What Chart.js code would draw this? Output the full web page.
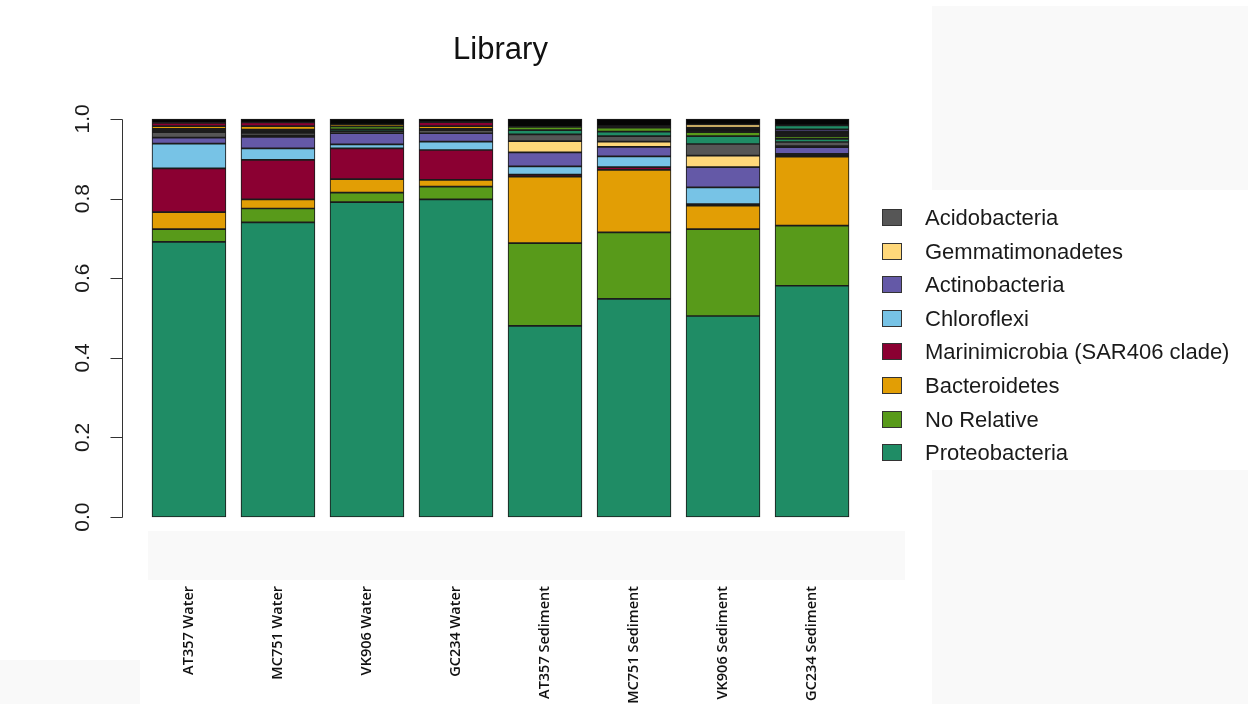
<!DOCTYPE html>
<html>
<head>
<meta charset="utf-8">
<title>Library</title>
<script src="https://cdn.jsdelivr.net/npm/chart.js@4.4.1/dist/chart.umd.min.js"></script>
<style>
  html, body { margin: 0; padding: 0; background: #ffffff; }
  canvas { display: block; }
</style>
</head>
<body>
<canvas id="chart" width="1248" height="704"></canvas>
<script>
// Relative abundance of bacterial phyla per library (each column sums to 1)
const samples = ['AT357 Water', 'MC751 Water', 'VK906 Water', 'GC234 Water',
                 'AT357 Sediment', 'MC751 Sediment', 'VK906 Sediment', 'GC234 Sediment'];

const proteobacteria   = [0.691, 0.740, 0.791, 0.798, 0.480, 0.548, 0.505, 0.581];
const noRelative       = [0.032, 0.035, 0.024, 0.032, 0.208, 0.167, 0.218, 0.151];
const bacteroidetes    = [0.043, 0.023, 0.034, 0.017, 0.167, 0.157, 0.059, 0.173];
const marinimicrobia   = [0.110, 0.099, 0.077, 0.075, 0.005, 0.007, 0.004, 0.004];
const chloroflexi      = [0.062, 0.029, 0.010, 0.021, 0.021, 0.027, 0.042, 0.003];
const actinobacteria   = [0.015, 0.029, 0.028, 0.021, 0.035, 0.024, 0.051, 0.017];
const gemmatimonadetes = [0.000, 0.003, 0.000, 0.000, 0.028, 0.013, 0.029, 0.003];
const acidobacteria    = [0.014, 0.007, 0.005, 0.008, 0.017, 0.014, 0.029, 0.010];

// Low-abundance phyla stacked above the named groups (not listed in the legend)
const minor1    = [0.004, 0.004, 0.005, 0.003, 0.011, 0.011, 0.020, 0.008];
const minor2    = [0.004, 0.004, 0.007, 0.000, 0.008, 0.010, 0.010, 0.006];
const minor3    = [0.007, 0.009, 0.005, 0.007, 0.000, 0.004, 0.000, 0.002];
const minor4    = [0.008, 0.009, 0.000, 0.010, 0.000, 0.000, 0.000, 0.004];
const minor5    = [0.000, 0.000, 0.000, 0.000, 0.000, 0.000, 0.011, 0.006];
const minor6    = [0.000, 0.000, 0.000, 0.000, 0.000, 0.000, 0.000, 0.006];
const minor7    = [0.000, 0.000, 0.000, 0.000, 0.000, 0.000, 0.008, 0.000];
const minor8    = [0.000, 0.000, 0.000, 0.000, 0.000, 0.000, 0.000, 0.010];
const remainder = [0.010, 0.009, 0.014, 0.008, 0.020, 0.018, 0.014, 0.016];

const yTicks = [0, 0.2, 0.4, 0.6, 0.8, 1.0];

// Palette
const C = {
  teal: '#1f8c65', green: '#589a1a', orange: '#e29e05', crimson: '#8b0032',
  sky: '#77c3e6', purple: '#6459a7', sand: '#ffd87a', grey: '#565656',
  ink: '#161616', black: '#050505'
};
const EDGE = '#1c1c1c';

// barplot-style layout: bar width 1, gap 0.2, 4% padding on the axis range
const SPACE = 0.2, WIDTH = 1;
const centre = i => SPACE + WIDTH / 2 + i * (WIDTH + SPACE);
const xLo = SPACE, xHi = samples.length * (WIDTH + SPACE);
const xPad = (xHi - xLo) * 0.04;

function series(label, values, color, legend) {
  return {
    label,
    data: values.map((v, i) => ({ x: centre(i), y: v })),
    backgroundColor: color,
    borderColor: EDGE,
    borderWidth: 0.85,
    borderSkipped: false,
    inLegend: legend
  };
}

const datasets = [
  series('Proteobacteria', proteobacteria, C.teal, true),
  series('No Relative', noRelative, C.green, true),
  series('Bacteroidetes', bacteroidetes, C.orange, true),
  series('Marinimicrobia (SAR406 clade)', marinimicrobia, C.crimson, true),
  series('Chloroflexi', chloroflexi, C.sky, true),
  series('Actinobacteria', actinobacteria, C.purple, true),
  series('Gemmatimonadetes', gemmatimonadetes, C.sand, true),
  series('Acidobacteria', acidobacteria, C.grey, true),
  series('minor 1', minor1, C.teal, false),
  series('minor 2', minor2, C.green, false),
  series('minor 3', minor3, C.orange, false),
  series('minor 4', minor4, C.crimson, false),
  series('minor 5', minor5, C.ink, false),
  series('minor 6', minor6, C.purple, false),
  series('minor 7', minor7, C.sand, false),
  series('minor 8', minor8, C.teal, false),
  series('other', remainder, C.black, false)
];

const SANS = '"Liberation Sans", Arial, Helvetica, sans-serif';

// Page backdrop, dark underlay for each stacked column, R-style y axis and the legend
const rStyle = {
  id: 'rStyle',
  beforeDraw(chart) {
    const { ctx, width, height } = chart;
    ctx.save();
    ctx.fillStyle = '#ffffff';
    ctx.fillRect(0, 0, width, height);
    ctx.fillStyle = '#f9f9f9';
    ctx.fillRect(148, 531, 757, 49);
    ctx.fillRect(932, 6, 316, 184);
    ctx.fillRect(932, 470, 316, 234);
    ctx.fillRect(0, 660, 140, 44);
    ctx.restore();
  },
  beforeDatasetsDraw(chart) {
    // outline colour under each column so seams between thin layers stay dark
    const { ctx } = chart;
    const first = chart.getDatasetMeta(0).data;
    const last = chart.getDatasetMeta(chart.data.datasets.length - 1).data;
    ctx.save();
    ctx.fillStyle = EDGE;
    first.forEach((el, i) => {
      const top = last[i].y, base = el.base, w = el.width;
      ctx.fillRect(el.x - w / 2, top, w, base - top);
    });
    ctx.restore();
  },
  afterDraw(chart) {
    const { ctx, chartArea } = chart;
    const ys = chart.scales.y;
    const ax = Math.round(chartArea.left) - 1.5;
    ctx.save();
    ctx.strokeStyle = '#333333';
    ctx.lineWidth = 1;
    ctx.beginPath();
    ctx.moveTo(ax, Math.round(ys.getPixelForValue(yTicks[0])) + 0.5);
    ctx.lineTo(ax, Math.round(ys.getPixelForValue(yTicks[yTicks.length - 1])) + 0.5);
    yTicks.forEach(v => {
      const p = Math.round(ys.getPixelForValue(v)) + 0.5;
      ctx.moveTo(ax - 12, p);
      ctx.lineTo(ax, p);
    });
    ctx.stroke();

    ctx.fillStyle = '#1a1a1a';
    ctx.font = '21px ' + SANS;
    ctx.textAlign = 'center';
    ctx.textBaseline = 'middle';
    yTicks.forEach(v => {
      ctx.save();
      ctx.translate(ax - 39, ys.getPixelForValue(v));
      ctx.rotate(-Math.PI / 2);
      ctx.fillText(v.toFixed(1), 0, 0);
      ctx.restore();
    });

    // legend, top entry = top of the stack
    const items = chart.data.datasets.filter(d => d.inLegend).reverse();
    const bx = chartArea.right + 5;
    const tx = chartArea.right + 48;
    const y0 = chartArea.top + 114.5;
    const step = 33.6;
    ctx.font = '22px ' + SANS;
    ctx.textAlign = 'left';
    items.forEach((d, k) => {
      const cy = y0 + k * step;
      ctx.fillStyle = d.backgroundColor;
      ctx.fillRect(bx, Math.round(cy - 8.5), 20, 17);
      ctx.strokeStyle = '#333333';
      ctx.strokeRect(bx + 0.5, Math.round(cy - 8.5) + 0.5, 19, 16);
      ctx.fillStyle = '#1a1a1a';
      ctx.fillText(d.label, tx, cy + 1.5);
    });
    ctx.restore();
  }
};

new Chart(document.getElementById('chart'), {
  type: 'bar',
  data: { datasets },
  plugins: [rStyle],
  options: {
    responsive: false,
    animation: false,
    devicePixelRatio: 1,
    categoryPercentage: WIDTH / (WIDTH + SPACE),
    barPercentage: 1,
    layout: { padding: { left: 0, right: 371, top: 0, bottom: 0 } },
    plugins: {
      legend: { display: false },
      tooltip: { enabled: false },
      title: {
        display: true,
        text: 'Library',
        fullSize: false,
        color: '#111111',
        font: { family: SANS, size: 31, weight: 'normal', lineHeight: 1.2 },
        padding: { top: 31.4, bottom: 34.4 }
      }
    },
    scales: {
      x: {
        type: 'linear',
        stacked: true,
        offset: false,
        min: xLo - xPad,
        max: xHi + xPad,
        grid: { display: false, drawTicks: false },
        border: { display: false },
        afterBuildTicks: s => { s.ticks = samples.map((_, i) => ({ value: centre(i) })); },
        afterFit: s => { s.height = 171; },
        ticks: {
          autoSkip: false,
          minRotation: 90,
          maxRotation: 90,
          padding: 53,
          color: '#111111',
          font: { family: '"Open Sans", "DejaVu Sans", sans-serif', size: 14.5, weight: 600 },
          callback: (v, i) => samples[i]
        }
      },
      y: {
        stacked: true,
        min: -0.04,
        max: 1.04,
        grid: { display: false, drawTicks: false },
        border: { display: false },
        ticks: { display: false },
        afterBuildTicks: s => { s.ticks = yTicks.map(v => ({ value: v })); },
        afterFit: s => { s.width = 124; }
      }
    }
  }
});
</script>
</body>
</html>
